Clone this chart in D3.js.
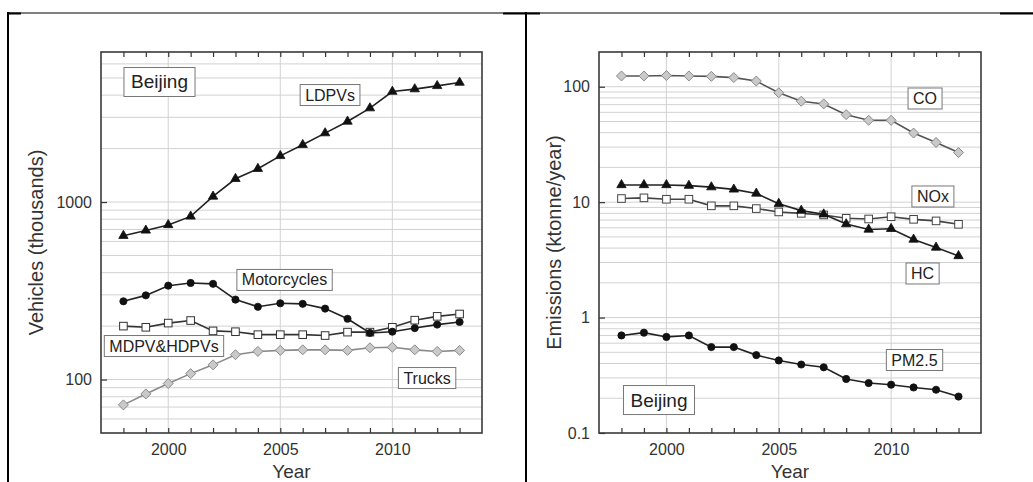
<!DOCTYPE html>
<html>
<head>
<meta charset="utf-8">
<script src="https://cdn.jsdelivr.net/npm/d3@7/dist/d3.min.js"></script>
<style>
  html, body { margin: 0; padding: 0; background: #fff; }
  svg { display: block; font-family: "Liberation Sans", Arial, sans-serif; }
</style>
</head>
<body>
<svg id="chart" width="1033" height="482"></svg>
<script>
// ---------------- data ----------------
const years = [1998, 1999, 2000, 2001, 2002, 2003, 2004, 2005, 2006, 2007, 2008, 2009, 2010, 2011, 2012, 2013];

// Left panel: vehicles (thousands)
const ldpvs       = [646, 692, 743, 830, 1075, 1352, 1540, 1820, 2100, 2445, 2843, 3380, 4190, 4325, 4510, 4710];
const motorcycles = [276, 298, 338, 350, 346, 282, 257, 269, 267, 251, 220, 183, 186, 195, 204, 211];
const mdpvHdpvs   = [200, 197, 208, 215, 188, 186, 179, 179, 179, 177, 185, 185, 197, 216, 227, 234];
const trucks      = [72, 83, 95, 108, 121, 138, 144, 146, 147, 147, 146, 151, 152, 147, 144, 146];

// Right panel: emissions (ktonne/year)
const co   = [124, 124, 125, 124, 123, 120, 112, 88.7, 74.9, 71, 57.3, 51.2, 51.2, 39.7, 32.9, 26.9];
const hc   = [14.1, 14.1, 14.1, 13.9, 13.5, 12.9, 11.9, 9.7, 8.45, 7.86, 6.46, 5.8, 5.88, 4.75, 4.05, 3.42];
const nox  = [10.75, 10.9, 10.6, 10.6, 9.29, 9.29, 8.8, 8.23, 8.0, 7.75, 7.25, 7.15, 7.48, 7.1, 6.88, 6.43];
const pm25 = [0.70, 0.74, 0.68, 0.70, 0.555, 0.555, 0.473, 0.425, 0.392, 0.371, 0.294, 0.271, 0.262, 0.248, 0.237, 0.207];

// axes
const xDomain = [1997, 2014];
const xTickLabels = [2000, 2005, 2010];
const leftYDomain = [50, 7000];
const leftYTickLabels = [100, 1000];
const rightYDomain = [0.1, 200];
const rightYTickLabels = [0.1, 1, 10, 100];

// label annotations, anchored in data space [year, value]
const leftLabels = [
  { text: "Beijing", year: 1999.61, value: 4744, big: true },
  { text: "LDPVs", year: 2007.22, value: 4006 },
  { text: "Motorcycles", year: 2005.19, value: 364 },
  { text: "MDPV&HDPVs", year: 1999.81, value: 154.5 },
  { text: "Trucks", year: 2011.55, value: 102 }
];
const rightLabels = [
  { text: "CO", year: 2011.51, value: 79.1 },
  { text: "NOx", year: 2011.86, value: 11.2 },
  { text: "HC", year: 2011.40, value: 2.41 },
  { text: "PM2.5", year: 2011.04, value: 0.429 },
  { text: "Beijing", year: 1999.67, value: 0.193, big: true }
];

// ---------------- drawing ----------------
const svg = d3.select("#chart");

// page frame lines (table border)
const border = svg.append("g");
border.append("line").attr("x1", 7).attr("x2", 1033).attr("y1", 13).attr("y2", 13)
  .attr("stroke", "#000").attr("stroke-width", 1);
[[7, 21], [503, 540], [1000, 1033]].forEach(([a, b]) => {
  border.append("line").attr("x1", a).attr("x2", b).attr("y1", 13.5).attr("y2", 13.5)
    .attr("stroke", "#000").attr("stroke-width", 2);
});
border.append("line").attr("x1", 8).attr("x2", 8).attr("y1", 12).attr("y2", 482)
  .attr("stroke", "#000").attr("stroke-width", 2);
border.append("line").attr("x1", 526).attr("x2", 526).attr("y1", 12).attr("y2", 482)
  .attr("stroke", "#000").attr("stroke-width", 2);

function marker(g, type, x, y, s) {
  if (type === "triangle") {
    g.append("path").attr("d", d3.symbol(d3.symbolTriangle, 38)())
      .attr("transform", `translate(${x},${y})`).attr("fill", s.fill).attr("stroke", s.stroke).attr("stroke-width", 0.8);
  } else if (type === "circle") {
    g.append("circle").attr("cx", x).attr("cy", y).attr("r", 3.6)
      .attr("fill", s.fill).attr("stroke", s.stroke).attr("stroke-width", 0.8);
  } else if (type === "square") {
    g.append("rect").attr("x", x - 3.8).attr("y", y - 3.8).attr("width", 7.6).attr("height", 7.6)
      .attr("fill", s.fill).attr("stroke", s.stroke).attr("stroke-width", 1);
  } else if (type === "diamond") {
    g.append("path").attr("d", `M0,-5L5,0L0,5L-5,0Z`)
      .attr("transform", `translate(${x},${y})`).attr("fill", s.fill).attr("stroke", s.stroke).attr("stroke-width", 1);
  }
}

function panel(opts) {
  const { x0, x1, y0, y1, yDomain, yTickLabels, series, labels, yTitle, yTitleX, fmt } = opts;
  const x = d3.scaleLinear().domain(xDomain).range([x0, x1]);
  const y = d3.scaleLog().domain(yDomain).range([y1, y0]);
  const g = svg.append("g");

  // grid: horizontal at log values 1..9 x 10^n
  const gridVals = y.ticks().filter(v => {
    if (v <= yDomain[0] || v >= yDomain[1]) return false;
    const m = v / Math.pow(10, Math.floor(Math.log10(v) + 1e-9));
    return Math.abs(m - Math.round(m)) < 1e-6;
  });
  g.append("g").selectAll("line").data(gridVals).join("line")
    .attr("x1", x0).attr("x2", x1).attr("y1", d => y(d)).attr("y2", d => y(d))
    .attr("stroke", "#d2d2d2").attr("stroke-width", 1);
  // vertical grid at major year ticks
  g.append("g").selectAll("line").data(xTickLabels).join("line")
    .attr("x1", d => x(d)).attr("x2", d => x(d)).attr("y1", y0).attr("y2", y1)
    .attr("stroke", "#d2d2d2").attr("stroke-width", 1);

  // axes (ticks inward)
  const minorYears = d3.range(xDomain[0] + 1, xDomain[1]);
  const xb = d3.axisBottom(x).tickValues(minorYears).tickSize(-5).tickFormat("");
  g.append("g").attr("transform", `translate(0,${y1})`).call(xb)
    .call(a => a.select(".domain").remove())
    .call(a => a.selectAll("line").attr("stroke", "#333").attr("stroke-width", 1.2));
  const xt = d3.axisTop(x).tickValues(minorYears).tickSize(-5).tickFormat("");
  g.append("g").attr("transform", `translate(0,${y0})`).call(xt)
    .call(a => a.select(".domain").remove())
    .call(a => a.selectAll("line").attr("stroke", "#333").attr("stroke-width", 1.2));
  const xl = d3.axisBottom(x).tickValues(xTickLabels).tickSize(0).tickPadding(11).tickFormat(d3.format("d"));
  g.append("g").attr("transform", `translate(0,${y1})`).call(xl)
    .call(a => a.select(".domain").remove())
    .call(a => a.selectAll("text").attr("font-size", 16).attr("fill", "#333")
      .attr("font-family", "'Liberation Sans', Arial, sans-serif"));

  const yl = d3.axisLeft(y).tickValues(yTickLabels).tickSize(-6).tickPadding(9).tickFormat(fmt);
  g.append("g").attr("transform", `translate(${x0},0)`).call(yl)
    .call(a => a.select(".domain").remove())
    .call(a => a.selectAll("line").attr("stroke", "#333").attr("stroke-width", 1.2))
    .call(a => a.selectAll("text").attr("font-size", 16).attr("fill", "#333")
      .attr("font-family", "'Liberation Sans', Arial, sans-serif"));

  // frame
  g.append("rect").attr("x", x0).attr("y", y0).attr("width", x1 - x0).attr("height", y1 - y0)
    .attr("fill", "none").attr("stroke", "#3a3a3a").attr("stroke-width", 1.6);

  // series
  series.forEach(s => {
    const line = d3.line().x((d, i) => x(years[i])).y(d => y(d));
    g.append("path").datum(s.values).attr("d", line)
      .attr("fill", "none").attr("stroke", s.line).attr("stroke-width", 1.6);
    const mg = g.append("g");
    s.values.forEach((v, i) => marker(mg, s.marker, x(years[i]), y(v), s));
  });

  // labels
  labels.forEach(l => {
    const cx = x(l.year), cy = y(l.value);
    const lg = g.append("g");
    const fs = l.big ? 19 : 16;
    const rect = lg.append("rect");
    const t = lg.append("text").attr("x", cx).attr("y", cy).attr("text-anchor", "middle")
      .attr("dominant-baseline", "central").attr("font-size", fs).attr("fill", "#222")
      .text(l.text);
    const bb = t.node().getBBox();
    const px = l.big ? 7 : 5, py = l.big ? 4 : 2;
    rect.attr("x", bb.x - px).attr("y", bb.y - py).attr("width", bb.width + 2 * px).attr("height", bb.height + 2 * py)
      .attr("fill", "#fff").attr("stroke", "#777").attr("stroke-width", 1);
  });

  // titles
  svg.append("text").attr("x", (x0 + x1) / 2).attr("y", 477.5).attr("text-anchor", "middle")
    .attr("font-size", 19).attr("fill", "#333").text("Year");
  svg.append("text").attr("transform", `translate(${yTitleX},${(y0 + y1) / 2}) rotate(-90)`)
    .attr("text-anchor", "middle").attr("dominant-baseline", "central")
    .attr("font-size", 20).attr("fill", "#333").text(yTitle);
}

panel({
  x0: 101, x1: 482, y0: 52, y1: 433,
  yDomain: leftYDomain, yTickLabels: leftYTickLabels,
  fmt: d3.format("d"),
  yTitle: "Vehicles (thousands)", yTitleX: 36,
  series: [
    { values: trucks, marker: "diamond", line: "#8a8a8a", fill: "#c9c9c9", stroke: "#8a8a8a" },
    { values: mdpvHdpvs, marker: "square", line: "#333", fill: "#fff", stroke: "#333" },
    { values: motorcycles, marker: "circle", line: "#222", fill: "#111", stroke: "#111" },
    { values: ldpvs, marker: "triangle", line: "#222", fill: "#111", stroke: "#111" }
  ],
  labels: leftLabels
});

panel({
  x0: 599, x1: 981, y0: 52, y1: 433,
  yDomain: rightYDomain, yTickLabels: rightYTickLabels,
  fmt: d => (d < 1 ? d3.format(".1f")(d) : d3.format("d")(d)),
  yTitle: "Emissions (ktonne/year)", yTitleX: 554,
  series: [
    { values: co, marker: "diamond", line: "#555", fill: "#c9c9c9", stroke: "#8a8a8a" },
    { values: nox, marker: "square", line: "#444", fill: "#fff", stroke: "#444" },
    { values: hc, marker: "triangle", line: "#222", fill: "#111", stroke: "#111" },
    { values: pm25, marker: "circle", line: "#222", fill: "#111", stroke: "#111" }
  ],
  labels: rightLabels
});
</script>
</body>
</html>
